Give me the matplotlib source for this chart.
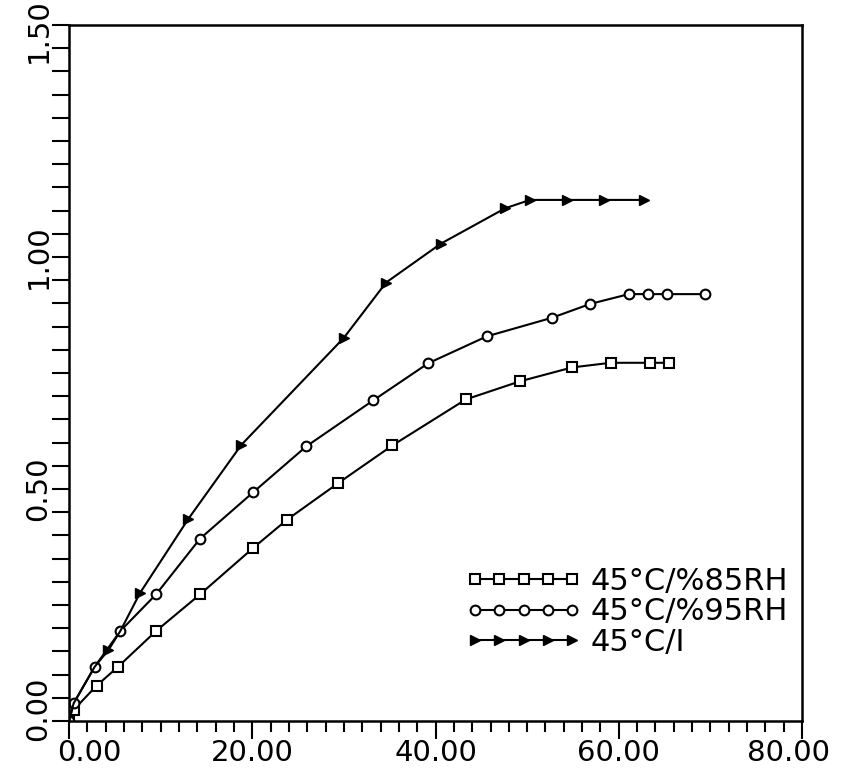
import matplotlib
matplotlib.use("Agg")
import matplotlib.pyplot as plt
from matplotlib.ticker import MultipleLocator, FormatStrFormatter
from matplotlib.transforms import ScaledTranslation

# series
x_85 = [0, 0.5, 3.0, 5.3, 9.5, 14.3, 20.1, 23.8, 29.4, 35.3, 43.3, 49.2, 54.9, 59.1, 63.4, 65.5]
y_85 = [0, 0.024, 0.076, 0.116, 0.194, 0.273, 0.373, 0.434, 0.513, 0.594, 0.693, 0.732, 0.762, 0.772, 0.772, 0.772]

x_95 = [0, 0.5, 2.8, 5.6, 9.5, 14.3, 20.1, 25.9, 33.2, 39.2, 45.6, 52.7, 56.9, 61.1, 63.2, 65.3, 69.4]
y_95 = [0, 0.038, 0.117, 0.194, 0.273, 0.393, 0.493, 0.592, 0.691, 0.771, 0.829, 0.869, 0.899, 0.920, 0.920, 0.920, 0.920]

x_i = [0, 0.5, 2.8, 4.3, 5.6, 7.75, 13.0, 18.8, 30.0, 34.6, 40.6, 47.6, 50.3, 54.3, 58.4, 62.7]
y_i = [0, 0.038, 0.117, 0.153, 0.194, 0.276, 0.435, 0.595, 0.826, 0.945, 1.029, 1.105, 1.123, 1.123, 1.123, 1.123]
i_marks = [3, 5, 6, 7, 8, 9, 10, 11, 12, 13, 14, 15]

labels = ["45°C/%85RH", "45°C/%95RH", "45°C/I"]
xticks = [0, 20, 40, 60, 80]
yticks = [0, 0.5, 1.0, 1.5]

fig = plt.figure(figsize=(8.44, 7.69), dpi=100)
ax = fig.add_axes([0.0818, 0.0624, 0.8685, 0.9051])

ax.plot(x_85, y_85, color='black', linewidth=1.5, marker='s', markersize=6.5,
        markerfacecolor='white', markeredgecolor='black', markeredgewidth=1.5, label=labels[0])
ax.plot(x_95, y_95, color='black', linewidth=1.5, marker='o', markersize=7,
        markerfacecolor='white', markeredgecolor='black', markeredgewidth=1.5, label=labels[1])
ax.plot(x_i, y_i, color='black', linewidth=1.5, marker='>', markersize=7,
        markerfacecolor='black', markeredgecolor='black', markevery=i_marks, label=labels[2])

ax.set_xlim(0, 80)
ax.set_ylim(0, 1.5)
ax.set_xticks(xticks)
ax.set_yticks(yticks)
ax.xaxis.set_minor_locator(MultipleLocator(2))
ax.yaxis.set_minor_locator(MultipleLocator(0.05))
ax.xaxis.set_major_formatter(FormatStrFormatter('%.2f'))
ax.yaxis.set_major_formatter(FormatStrFormatter('%.2f'))

ax.tick_params(axis='x', which='major', direction='out', length=13, width=1.5, labelsize=21, pad=0)
ax.tick_params(axis='x', which='minor', direction='out', length=8, width=1.5)
ax.tick_params(axis='y', which='both', direction='out', length=12, width=1.5, labelsize=21, pad=0)

for sp in ax.spines.values():
    sp.set_linewidth(1.8)

leg = ax.legend(loc='center', bbox_to_anchor=(0.761, 0.157), frameon=False, numpoints=5,
                fontsize=22, handlelength=3.8, handletextpad=0.3, labelspacing=0.05)

fig.canvas.draw()
ylabs = ax.get_yticklabels()
for lab in ylabs:
    lab.set_rotation(90)
    lab.set_va('center')
# nudge the end labels the way the scan shows them
ylabs[0].set_transform(ylabs[0].get_transform() + ScaledTranslation(0, 0.12, fig.dpi_scale_trans))
ylabs[-1].set_transform(ylabs[-1].get_transform() + ScaledTranslation(0, -0.06, fig.dpi_scale_trans))
xlabs = ax.get_xticklabels()
xlabs[0].set_transform(xlabs[0].get_transform() + ScaledTranslation(0.2, 0, fig.dpi_scale_trans))
xlabs[-1].set_transform(xlabs[-1].get_transform() + ScaledTranslation(-0.14, 0, fig.dpi_scale_trans))

plt.savefig("out.png", dpi=100)
